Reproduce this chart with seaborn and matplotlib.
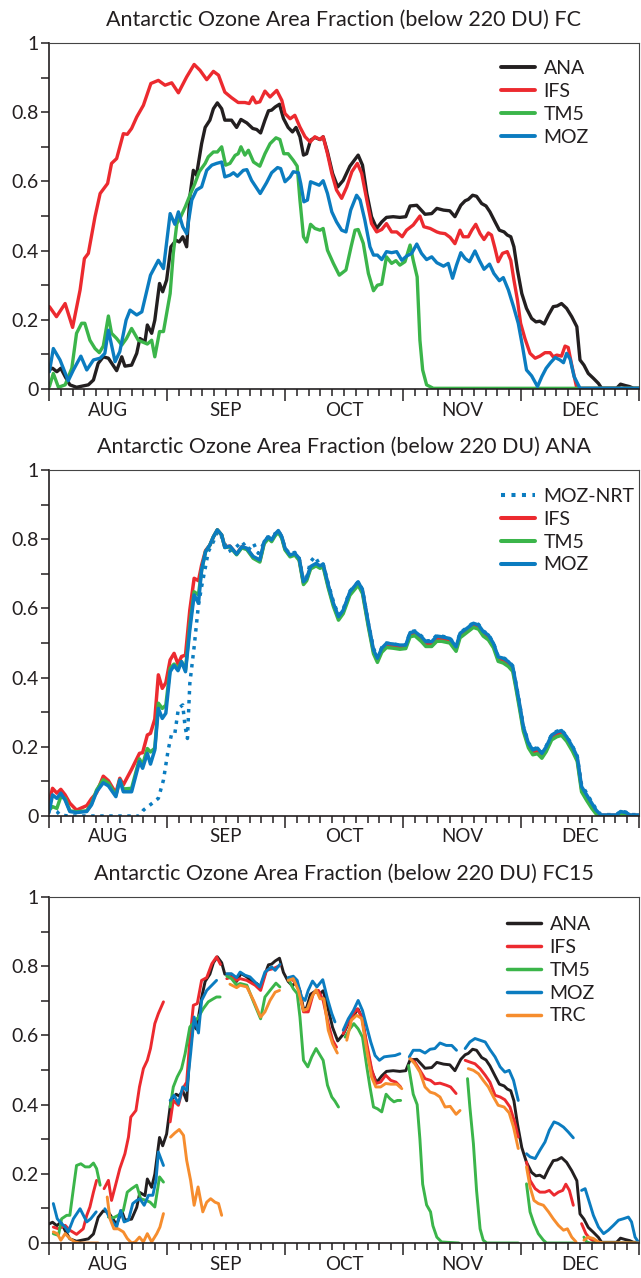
import numpy as np
import pandas as pd
import matplotlib
matplotlib.use("Agg")
import matplotlib.pyplot as plt
import seaborn as sns
from matplotlib.lines import Line2D
from matplotlib.ticker import FixedLocator, FixedFormatter

sns.set_theme(style="white")
plt.rcParams['font.family'] = ['Lato', 'DejaVu Sans']

# ---------------- data (day since 1 Aug, area fraction) ----------------
months = ['AUG', 'SEP', 'OCT', 'NOV', 'DEC']
y_labels = ['0', '0.2', '0.4', '0.6', '0.8', '1']
titles = ['Antarctic Ozone Area Fraction (below 220 DU) FC',
          'Antarctic Ozone Area Fraction (below 220 DU) ANA',
          'Antarctic Ozone Area Fraction (below 220 DU) FC15']

ana = [(0, 0.055), (0.9, 0.06), (2.0, 0.05), (3.0, 0.06), (4.1, 0.036), (5.3, 0.012), (7.0, 0.005),
       (10.0, 0.012), (11.3, 0.026), (12.5, 0.074), (13.8, 0.093), (15.1, 0.089), (17.2, 0.053),
       (18.5, 0.093), (19.3, 0.066), (21.0, 0.069), (22.3, 0.103), (23.1, 0.146), (24.4, 0.137),
       (25.0, 0.185), (26.1, 0.161), (26.9, 0.199), (28.1, 0.305), (28.9, 0.281), (29.9, 0.315),
       (31.0, 0.411), (32.3, 0.43), (33.1, 0.425), (34.0, 0.44), (35.0, 0.411), (35.8, 0.555),
       (36.7, 0.632), (37.5, 0.618), (38.8, 0.709), (39.7, 0.756), (40.9, 0.777), (41.8, 0.81),
       (42.8, 0.827), (43.9, 0.81), (44.7, 0.777), (46.4, 0.777), (47.7, 0.756), (48.8, 0.779),
       (50.3, 0.769), (51.8, 0.753), (52.8, 0.75), (53.8, 0.74), (54.9, 0.777), (55.8, 0.804),
       (56.6, 0.806), (57.5, 0.815), (58.6, 0.823), (59.6, 0.782), (60.8, 0.756), (61.9, 0.743),
       (62.8, 0.756), (63.8, 0.729), (64.7, 0.676), (65.5, 0.68), (66.5, 0.719), (67.6, 0.727),
       (68.9, 0.721), (69.7, 0.729), (70.8, 0.685), (72.1, 0.623), (73.4, 0.584), (74.8, 0.603),
       (76.5, 0.644), (78.6, 0.676), (79.7, 0.647), (80.8, 0.565), (82.0, 0.498), (83.3, 0.464),
       (84.6, 0.483), (85.8, 0.496), (87.5, 0.498), (89.2, 0.496), (90.7, 0.498), (91.8, 0.529),
       (93.5, 0.531), (95.6, 0.505), (97.3, 0.507), (98.6, 0.522), (100.3, 0.517), (101.9, 0.515),
       (103.2, 0.498), (104.7, 0.531), (105.8, 0.544), (106.6, 0.548), (107.7, 0.56), (108.7, 0.557),
       (110.0, 0.536), (111.1, 0.529), (112.1, 0.512), (113.4, 0.483), (114.5, 0.459), (115.7, 0.454),
       (116.5, 0.445), (117.4, 0.44), (118.2, 0.411), (119.1, 0.344), (120.2, 0.276), (121.4, 0.233),
       (122.7, 0.204), (123.8, 0.194), (124.8, 0.196), (125.9, 0.188), (127.0, 0.214), (128.2, 0.238),
       (129.2, 0.24), (130.3, 0.247), (131.6, 0.233), (132.9, 0.209), (134.2, 0.18), (135.0, 0.084),
       (136.0, 0.069), (137.1, 0.045), (138.4, 0.031), (139.7, 0.016), (140.5, 0.002), (144.3, 0.002),
       (145.3, 0.014), (146.5, 0.01), (147.6, 0.007), (148.6, 0.002), (150, 0.002)]

fc_ifs = [(0.1, 0.238), (1.9, 0.209), (4.1, 0.247), (6.0, 0.178), (7.9, 0.286), (9.0, 0.377), (10.0, 0.392),
          (11.7, 0.498), (13.0, 0.565), (14.9, 0.594), (15.9, 0.652), (17.2, 0.666), (18.9, 0.738),
          (19.9, 0.736), (21.0, 0.753), (22.3, 0.786), (24.0, 0.82), (25.9, 0.883), (27.8, 0.892),
          (29.5, 0.878), (31.2, 0.885), (32.9, 0.856), (35.0, 0.902), (36.9, 0.938), (38.4, 0.921),
          (40.1, 0.894), (41.8, 0.918), (43.1, 0.907), (44.7, 0.858), (46.4, 0.842), (48.1, 0.828),
          (49.8, 0.828), (50.9, 0.825), (51.8, 0.844), (52.6, 0.827), (53.6, 0.83), (54.9, 0.861),
          (56.2, 0.844), (57.9, 0.863), (59.2, 0.834), (60.0, 0.796), (61.3, 0.781), (62.5, 0.791),
          (63.8, 0.757), (65.1, 0.729), (66.4, 0.714), (67.6, 0.729), (68.9, 0.721), (69.7, 0.729),
          (70.8, 0.68), (71.9, 0.623), (73.1, 0.575), (74.4, 0.551), (75.7, 0.584), (77.0, 0.628),
          (78.4, 0.652), (79.5, 0.623), (80.8, 0.546), (82.0, 0.478), (83.3, 0.454), (84.6, 0.461),
          (85.8, 0.478), (87.1, 0.454), (88.4, 0.454), (89.8, 0.44), (90.9, 0.459), (92.6, 0.474),
          (94.3, 0.5), (95.3, 0.469), (96.9, 0.464), (98.6, 0.454), (99.4, 0.451), (100.7, 0.449),
          (102.0, 0.438), (103.2, 0.42), (104.5, 0.459), (105.3, 0.44), (106.6, 0.44), (107.5, 0.459),
          (108.5, 0.476), (109.6, 0.449), (110.6, 0.432), (111.7, 0.451), (112.5, 0.445), (113.4, 0.406),
          (114.2, 0.368), (115.3, 0.392), (116.5, 0.397), (117.4, 0.372), (118.2, 0.315), (119.1, 0.257),
          (119.9, 0.19), (121.0, 0.146), (122.3, 0.103), (123.6, 0.089), (124.8, 0.095), (126.1, 0.105),
          (127.4, 0.105), (128.2, 0.093), (129.1, 0.098), (130.3, 0.095), (131.2, 0.124), (132.0, 0.12),
          (132.9, 0.069), (134.2, 0.002), (150, 0.002)]

fc_tm5 = [(0.1, 0.007), (1.1, 0.045), (2.4, 0.005), (4.1, 0.012), (5.8, 0.06), (7.0, 0.161), (8.3, 0.19),
          (9.1, 0.19), (10.4, 0.141), (11.7, 0.117), (12.8, 0.105), (13.8, 0.124), (15.1, 0.211),
          (15.9, 0.161), (17.2, 0.146), (18.5, 0.127), (19.7, 0.146), (21.0, 0.175), (22.7, 0.141),
          (25.0, 0.13), (26.1, 0.141), (26.9, 0.093), (28.1, 0.166), (29.1, 0.166), (30.8, 0.276),
          (31.6, 0.392), (32.5, 0.478), (33.3, 0.493), (34.7, 0.528), (36.0, 0.565), (37.1, 0.594),
          (38.2, 0.628), (39.7, 0.652), (40.5, 0.671), (41.8, 0.685), (42.8, 0.685), (43.9, 0.7),
          (44.9, 0.647), (46.0, 0.652), (47.3, 0.675), (48.1, 0.68), (48.8, 0.7), (49.8, 0.676),
          (50.7, 0.69), (52.0, 0.656), (53.6, 0.644), (54.9, 0.68), (56.2, 0.709), (57.7, 0.726),
          (58.7, 0.721), (59.7, 0.68), (60.8, 0.68), (62.1, 0.661), (63.1, 0.644), (63.8, 0.546),
          (64.7, 0.44), (65.5, 0.425), (66.5, 0.476), (67.6, 0.464), (68.9, 0.459), (69.7, 0.464),
          (70.8, 0.401), (72.3, 0.363), (73.8, 0.329), (75.5, 0.344), (76.8, 0.411), (77.8, 0.459),
          (78.6, 0.461), (79.9, 0.421), (81.2, 0.334), (82.5, 0.284), (83.5, 0.3), (84.6, 0.303),
          (85.8, 0.382), (87.1, 0.363), (88.2, 0.371), (89.2, 0.358), (90.5, 0.368), (91.8, 0.416),
          (92.6, 0.372), (93.6, 0.324), (94.3, 0.141), (95.0, 0.055), (96.0, 0.012), (97.7, 0.002),
          (150, 0.002)]

fc_moz = [(0.1, 0.05), (1.1, 0.117), (2.8, 0.084), (4.9, 0.024), (6.2, 0.055), (8.1, 0.095), (9.6, 0.055),
          (11.3, 0.084), (13.0, 0.089), (14.2, 0.103), (15.1, 0.17), (16.8, 0.079), (18.0, 0.108),
          (19.6, 0.199), (20.6, 0.228), (22.3, 0.214), (23.6, 0.223), (24.7, 0.276), (25.8, 0.329),
          (27.8, 0.372), (29.1, 0.348), (30.8, 0.507), (32.0, 0.476), (32.9, 0.512), (34.0, 0.469),
          (35.0, 0.449), (36.3, 0.546), (37.5, 0.575), (38.8, 0.584), (40.1, 0.632), (41.4, 0.647),
          (42.6, 0.652), (43.9, 0.656), (44.7, 0.613), (46.0, 0.618), (46.9, 0.625), (47.9, 0.615),
          (49.4, 0.632), (50.3, 0.634), (51.5, 0.603), (53.7, 0.565), (55.3, 0.596), (56.6, 0.625),
          (58.1, 0.64), (58.9, 0.637), (60.0, 0.599), (61.3, 0.613), (62.1, 0.628), (63.4, 0.625),
          (64.0, 0.594), (64.8, 0.541), (65.7, 0.546), (66.5, 0.599), (67.6, 0.594), (68.7, 0.589),
          (69.7, 0.602), (70.8, 0.565), (71.9, 0.512), (73.1, 0.483), (74.4, 0.459), (75.5, 0.454),
          (76.7, 0.517), (78.2, 0.56), (79.1, 0.546), (80.3, 0.488), (81.6, 0.411), (82.5, 0.387),
          (83.5, 0.387), (84.6, 0.374), (85.8, 0.397), (87.1, 0.394), (88.4, 0.397), (89.7, 0.372),
          (90.9, 0.384), (92.2, 0.392), (93.5, 0.419), (94.7, 0.392), (96.0, 0.374), (97.3, 0.382),
          (98.6, 0.365), (100.3, 0.355), (101.5, 0.363), (102.6, 0.32), (103.6, 0.358), (104.7, 0.394),
          (105.8, 0.377), (106.9, 0.368), (108.3, 0.399), (109.4, 0.372), (110.6, 0.346), (112.0, 0.361),
          (113.1, 0.334), (114.5, 0.313), (115.5, 0.322), (116.8, 0.286), (118.1, 0.238), (119.3, 0.19),
          (120.4, 0.122), (121.4, 0.055), (122.7, 0.038), (124.2, 0.007), (125.3, 0.036), (126.4, 0.06),
          (127.5, 0.076), (128.7, 0.091), (129.9, 0.084), (130.8, 0.076), (131.6, 0.103), (132.5, 0.086),
          (133.5, 0.036), (135.0, 0.002), (150, 0.002)]

an_nrt = [(0.0, 0.027), (2.0, 0.013), (2.8, 0.003), (5.0, 0.0), (23.0, 0.0), (24.0, 0.017), (25.7, 0.032),
          (27.8, 0.051), (29.1, 0.104), (30.3, 0.191), (31.2, 0.239), (32.0, 0.239), (32.9, 0.311),
          (34.0, 0.321), (34.6, 0.258), (35.2, 0.224), (35.8, 0.383), (36.9, 0.489), (38.0, 0.61),
          (38.8, 0.663), (39.8, 0.721), (40.5, 0.764), (41.8, 0.793), (42.8, 0.822), (43.9, 0.807),
          (45.6, 0.764), (47.3, 0.774), (49.0, 0.793), (50.7, 0.769), (52.0, 0.788), (53.2, 0.759),
          (54.7, 0.79), (55.8, 0.81), (57.5, 0.815), (58.3, 0.825), (59.2, 0.807), (60.0, 0.774),
          (61.3, 0.757), (62.5, 0.762), (63.6, 0.745), (64.7, 0.68), (65.5, 0.69), (66.5, 0.735),
          (67.6, 0.75), (68.9, 0.725), (69.7, 0.728), (71.0, 0.672), (72.3, 0.62), (73.6, 0.58),
          (74.8, 0.598), (76.5, 0.65), (78.6, 0.677), (79.7, 0.655), (81.2, 0.557), (82.5, 0.485),
          (83.5, 0.458), (84.6, 0.487), (85.8, 0.5), (87.5, 0.497), (89.2, 0.494), (90.7, 0.494),
          (91.8, 0.532), (93.0, 0.535), (94.7, 0.52), (95.8, 0.506), (97.3, 0.507), (98.6, 0.523),
          (99.8, 0.52), (101.9, 0.515), (103.5, 0.49), (104.5, 0.53), (106.2, 0.544), (107.9, 0.559),
          (109.2, 0.554), (110.4, 0.535), (111.7, 0.525), (113.0, 0.5), (114.2, 0.462), (115.5, 0.458),
          (116.8, 0.448), (117.9, 0.434), (118.7, 0.385), (119.6, 0.328), (120.6, 0.26), (121.9, 0.212),
          (123.0, 0.193), (124.2, 0.198), (125.3, 0.183), (126.4, 0.202), (127.8, 0.236), (129.1, 0.245),
          (130.3, 0.249), (131.6, 0.231), (133.1, 0.202), (134.3, 0.173), (135.4, 0.09), (136.7, 0.066),
          (138.0, 0.04), (139.1, 0.02), (140.3, 0.004), (144.3, 0.004), (145.3, 0.014), (146.7, 0.011),
          (147.7, 0.004), (150, 0.004)]

an_ifs = [(0.0, 0.041), (0.9, 0.08), (2.0, 0.066), (3.0, 0.077), (4.1, 0.061), (5.3, 0.037), (7.0, 0.017),
          (9.6, 0.03), (10.8, 0.05), (12.1, 0.067), (13.8, 0.115), (15.1, 0.102), (17.0, 0.066),
          (18.0, 0.109), (18.9, 0.09), (21.0, 0.135), (23.0, 0.181), (23.8, 0.183), (25.0, 0.234),
          (25.8, 0.239), (26.9, 0.28), (27.8, 0.408), (28.8, 0.369), (29.7, 0.385), (30.8, 0.451),
          (31.8, 0.47), (32.8, 0.439), (33.7, 0.461), (34.7, 0.465), (35.8, 0.595), (36.9, 0.687),
          (38.0, 0.68), (38.8, 0.725), (39.8, 0.767), (40.9, 0.783), (41.8, 0.807), (42.8, 0.827),
          (43.9, 0.812), (44.7, 0.778), (46.0, 0.78), (47.7, 0.757), (49.0, 0.778), (50.3, 0.772),
          (51.9, 0.748), (53.6, 0.737), (54.7, 0.79), (55.8, 0.805), (56.6, 0.796), (57.5, 0.813),
          (58.3, 0.823), (59.2, 0.805), (60.0, 0.772), (61.3, 0.752), (62.5, 0.757), (63.6, 0.742),
          (64.7, 0.673), (65.5, 0.684), (66.5, 0.718), (67.9, 0.727), (68.9, 0.72), (69.7, 0.725),
          (71.0, 0.664), (72.3, 0.611), (73.6, 0.572), (74.8, 0.591), (76.5, 0.644), (78.6, 0.673),
          (79.7, 0.649), (81.2, 0.552), (82.5, 0.475), (83.5, 0.451), (84.6, 0.48), (85.8, 0.494),
          (87.5, 0.492), (89.2, 0.489), (90.7, 0.49), (91.8, 0.525), (93.0, 0.528), (94.7, 0.512),
          (95.8, 0.497), (97.3, 0.498), (98.6, 0.513), (99.8, 0.512), (101.9, 0.507), (103.5, 0.484),
          (104.5, 0.522), (106.2, 0.537), (107.9, 0.552), (109.2, 0.547), (110.4, 0.527), (111.7, 0.516),
          (113.0, 0.493), (114.2, 0.455), (115.5, 0.45), (116.8, 0.44), (117.9, 0.426), (118.7, 0.377),
          (119.6, 0.32), (120.6, 0.252), (121.9, 0.204), (123.0, 0.184), (124.2, 0.188), (125.3, 0.174),
          (126.4, 0.193), (127.8, 0.227), (129.1, 0.236), (130.3, 0.24), (131.6, 0.223), (133.1, 0.194),
          (134.3, 0.165), (135.4, 0.078), (136.7, 0.052), (138.0, 0.028), (139.1, 0.01), (140.3, 0.002),
          (144.3, 0.002), (145.3, 0.01), (146.7, 0.008), (147.7, 0.002), (150, 0.002)]

an_tm5 = [(0.0, 0.017), (0.9, 0.027), (2.0, 0.022), (3.0, 0.056), (4.1, 0.051), (5.3, 0.015), (7.0, 0.012),
          (9.6, 0.015), (10.8, 0.035), (12.1, 0.075), (13.8, 0.105), (15.1, 0.095), (17.0, 0.06),
          (18.0, 0.104), (18.9, 0.078), (21.0, 0.08), (23.0, 0.165), (23.8, 0.148), (25.0, 0.195),
          (25.8, 0.185), (26.9, 0.196), (27.8, 0.326), (28.8, 0.311), (29.7, 0.32), (30.8, 0.427),
          (31.8, 0.439), (32.8, 0.427), (33.7, 0.446), (34.7, 0.422), (35.8, 0.552), (36.9, 0.648),
          (38.0, 0.639), (38.8, 0.711), (39.8, 0.764), (40.9, 0.783), (41.8, 0.807), (42.8, 0.827),
          (43.9, 0.812), (44.7, 0.776), (46.0, 0.778), (47.7, 0.755), (49.0, 0.775), (50.3, 0.77),
          (51.9, 0.745), (53.6, 0.734), (54.7, 0.787), (55.8, 0.802), (56.6, 0.793), (57.5, 0.81),
          (58.3, 0.82), (59.2, 0.802), (60.0, 0.769), (61.3, 0.749), (62.5, 0.754), (63.6, 0.739),
          (64.7, 0.669), (65.5, 0.68), (66.5, 0.714), (67.9, 0.723), (68.9, 0.716), (69.7, 0.72),
          (71.0, 0.659), (72.3, 0.606), (73.6, 0.566), (74.8, 0.585), (76.5, 0.638), (78.6, 0.667),
          (79.7, 0.643), (81.2, 0.546), (82.5, 0.469), (83.5, 0.444), (84.6, 0.473), (85.8, 0.487),
          (87.5, 0.485), (89.2, 0.482), (90.7, 0.484), (91.8, 0.518), (93.0, 0.521), (94.7, 0.504),
          (95.8, 0.49), (97.3, 0.49), (98.6, 0.505), (99.8, 0.505), (101.9, 0.5), (103.5, 0.476),
          (104.5, 0.515), (106.2, 0.53), (107.9, 0.545), (109.2, 0.54), (110.4, 0.52), (111.7, 0.509),
          (113.0, 0.486), (114.2, 0.447), (115.5, 0.442), (116.8, 0.432), (117.9, 0.418), (118.7, 0.37),
          (119.6, 0.312), (120.6, 0.245), (121.9, 0.197), (123.0, 0.177), (124.2, 0.18), (125.3, 0.167),
          (126.4, 0.186), (127.8, 0.22), (129.1, 0.229), (130.3, 0.233), (131.6, 0.216), (133.1, 0.187),
          (134.3, 0.158), (135.4, 0.07), (136.7, 0.045), (138.0, 0.022), (139.1, 0.006), (140.3, 0.0),
          (144.3, 0.0), (145.3, 0.006), (146.7, 0.005), (147.7, 0.0), (150, 0.0)]

an_moz = [(0.0, 0.01), (0.9, 0.061), (2.0, 0.051), (3.0, 0.066), (4.1, 0.046), (5.3, 0.013), (7.0, 0.01),
          (9.6, 0.013), (10.8, 0.032), (12.1, 0.07), (13.8, 0.096), (15.1, 0.087), (17.0, 0.056),
          (18.0, 0.104), (18.9, 0.07), (21.0, 0.07), (23.0, 0.157), (23.8, 0.138), (25.0, 0.181),
          (25.8, 0.15), (26.9, 0.191), (27.8, 0.311), (28.8, 0.282), (29.7, 0.297), (30.8, 0.417),
          (31.8, 0.435), (32.8, 0.42), (33.7, 0.446), (34.7, 0.417), (35.8, 0.538), (36.9, 0.639),
          (38.0, 0.615), (38.8, 0.711), (39.8, 0.764), (40.9, 0.783), (41.8, 0.807), (42.8, 0.827),
          (43.9, 0.812), (44.7, 0.776), (46.0, 0.78), (47.7, 0.757), (49.0, 0.778), (50.3, 0.774),
          (51.9, 0.75), (53.6, 0.74), (54.7, 0.793), (55.8, 0.807), (56.6, 0.798), (57.5, 0.815),
          (58.3, 0.825), (59.2, 0.807), (60.0, 0.774), (61.3, 0.754), (62.5, 0.759), (63.6, 0.745),
          (64.7, 0.677), (65.5, 0.687), (66.5, 0.721), (67.9, 0.73), (68.9, 0.723), (69.7, 0.728),
          (71.0, 0.668), (72.3, 0.615), (73.6, 0.576), (74.8, 0.595), (76.5, 0.648), (78.6, 0.677),
          (79.7, 0.653), (81.2, 0.557), (82.5, 0.48), (83.5, 0.456), (84.6, 0.485), (85.8, 0.499),
          (87.5, 0.497), (89.2, 0.494), (90.7, 0.494), (91.8, 0.53), (93.0, 0.533), (94.7, 0.518),
          (95.8, 0.504), (97.3, 0.504), (98.6, 0.52), (99.8, 0.518), (101.9, 0.513), (103.5, 0.489),
          (104.5, 0.528), (106.2, 0.542), (107.9, 0.557), (109.2, 0.552), (110.4, 0.533), (111.7, 0.523),
          (113.0, 0.499), (114.2, 0.46), (115.5, 0.456), (116.8, 0.446), (117.9, 0.432), (118.7, 0.383),
          (119.6, 0.326), (120.6, 0.258), (121.9, 0.21), (123.0, 0.191), (124.2, 0.196), (125.3, 0.181),
          (126.4, 0.2), (127.8, 0.234), (129.1, 0.243), (130.3, 0.247), (131.6, 0.229), (133.1, 0.2),
          (134.3, 0.171), (135.4, 0.085), (136.7, 0.061), (138.0, 0.037), (139.1, 0.017), (140.3, 0.003),
          (144.3, 0.003), (145.3, 0.013), (146.7, 0.01), (147.7, 0.003), (150, 0.003)]

# FC15: list of 15-day forecast segments per model
fc15_ifs = [
    [(1.1, 0.046), (2.4, 0.041), (4.1, 0.051), (5.3, 0.037), (7.0, 0.025), (8.7, 0.041), (9.6, 0.08),
     (10.4, 0.104), (11.3, 0.147), (12.1, 0.181)],
    [(14.0, 0.157), (15.1, 0.181), (15.9, 0.123), (16.8, 0.162), (18.0, 0.215), (19.3, 0.258), (20.2, 0.306),
     (20.8, 0.364), (22.1, 0.383), (23.0, 0.451), (24.0, 0.504), (25.0, 0.528), (25.8, 0.562), (26.9, 0.634),
     (27.8, 0.663), (29.1, 0.697)],
    [(30.8, 0.35), (31.6, 0.412), (32.9, 0.398), (34.0, 0.446), (35.0, 0.465), (35.8, 0.586), (36.7, 0.687),
     (37.7, 0.692), (38.8, 0.759), (40.1, 0.767), (41.4, 0.807), (42.6, 0.827), (43.6, 0.805)],
    [(45.2, 0.764), (46.4, 0.769), (47.7, 0.759), (48.6, 0.764), (50.3, 0.759), (52.4, 0.745), (53.8, 0.73),
     (55.3, 0.788), (57.0, 0.793), (58.7, 0.802)],
    [(60.8, 0.764), (62.1, 0.759), (63.4, 0.74), (64.7, 0.668), (65.9, 0.668), (67.2, 0.721), (68.5, 0.73),
     (69.7, 0.701), (71.0, 0.634), (72.1, 0.586), (73.1, 0.566)],
    [(74.8, 0.605), (76.1, 0.639), (77.4, 0.663), (78.4, 0.677), (79.5, 0.653), (80.8, 0.576), (82.0, 0.504),
     (83.1, 0.461), (84.3, 0.465), (85.6, 0.485), (86.9, 0.47), (88.2, 0.465), (89.4, 0.451)],
    [(91.8, 0.533), (93.0, 0.523), (94.3, 0.499), (95.6, 0.475), (97.0, 0.47), (98.1, 0.46), (99.4, 0.462),
     (101.0, 0.456), (102.1, 0.451), (103.5, 0.432)],
    [(105.8, 0.528), (107.0, 0.523), (108.3, 0.518), (109.6, 0.504), (110.9, 0.485), (112.1, 0.465),
     (113.4, 0.427), (114.7, 0.422), (115.9, 0.414), (117.2, 0.393), (118.5, 0.345), (119.3, 0.306)],
    [(121.4, 0.234), (122.3, 0.181), (123.6, 0.157), (124.8, 0.147), (126.1, 0.147), (127.2, 0.152),
     (128.4, 0.138), (129.5, 0.147), (130.6, 0.152), (131.4, 0.17), (132.3, 0.152), (133.3, 0.109)],
    [(135.4, 0.056), (136.5, 0.027), (137.5, 0.013), (138.8, 0.003), (140.1, 0.0), (150, 0.0)],
]
fc15_tm5 = [
    [(1.1, 0.027), (2.4, 0.022), (3.2, 0.07), (4.5, 0.08), (5.3, 0.08), (6.2, 0.157), (7.0, 0.224), (8.1, 0.229),
     (9.2, 0.22), (10.3, 0.22), (11.3, 0.231), (12.1, 0.215), (13.0, 0.167)],
    [(15.1, 0.075), (16.4, 0.073), (17.6, 0.08), (18.9, 0.094), (19.9, 0.147), (21.0, 0.157), (22.3, 0.167),
     (23.3, 0.128), (24.7, 0.123), (25.7, 0.118), (26.9, 0.104), (28.1, 0.191), (29.1, 0.176)],
    [(30.8, 0.393), (31.6, 0.451), (32.6, 0.48), (33.7, 0.504), (34.6, 0.547), (35.8, 0.624), (36.9, 0.639),
     (38.0, 0.653), (39.2, 0.677), (40.5, 0.697), (41.8, 0.706), (42.6, 0.711), (43.5, 0.711)],
    [(45.2, 0.771), (46.4, 0.764), (47.7, 0.745), (48.6, 0.75), (50.3, 0.745), (52.0, 0.697), (53.8, 0.648),
     (54.9, 0.711), (56.2, 0.73), (57.7, 0.751), (58.7, 0.74)],
    [(60.8, 0.764), (62.1, 0.735), (63.1, 0.721), (63.8, 0.653), (64.7, 0.528), (65.8, 0.509), (66.8, 0.538),
     (67.9, 0.562), (68.9, 0.543), (69.7, 0.528), (70.8, 0.456), (71.9, 0.422), (72.7, 0.41), (73.6, 0.393)],
    [(75.3, 0.595), (76.5, 0.619), (77.5, 0.634), (78.6, 0.619), (79.7, 0.595), (80.8, 0.509), (81.6, 0.451),
     (82.5, 0.393), (83.5, 0.388), (84.6, 0.379), (85.7, 0.43), (86.7, 0.417), (87.7, 0.408), (88.6, 0.412),
     (89.4, 0.412)],
    [(91.4, 0.513), (92.6, 0.43), (93.6, 0.4), (94.3, 0.3), (95.0, 0.17), (96.0, 0.11), (97.0, 0.09),
     (97.6, 0.05), (98.6, 0.017), (99.8, 0.003), (104.2, 0.0)],
    [(106.4, 0.475), (107.0, 0.393), (107.9, 0.287), (108.7, 0.152), (109.6, 0.041), (110.4, 0.008),
     (111.3, 0.0), (119.3, 0.0)],
    [(121.4, 0.171), (122.3, 0.09), (123.3, 0.056), (124.4, 0.027), (125.7, 0.008), (126.5, 0.0), (133.3, 0.0)],
    [(136.0, 0.017), (136.7, 0.003), (137.5, 0.0), (150, 0.0)],
]
fc15_moz = [
    [(1.1, 0.114), (2.1, 0.07), (3.2, 0.056), (4.1, 0.046), (4.9, 0.032), (6.2, 0.07), (7.9, 0.099),
     (9.6, 0.061), (10.6, 0.07), (12.0, 0.09)],
    [(14.2, 0.099), (15.1, 0.08), (16.2, 0.061), (17.2, 0.046), (18.2, 0.094), (19.1, 0.061), (20.2, 0.066),
     (21.3, 0.114), (22.3, 0.123), (23.1, 0.128), (24.2, 0.109), (25.3, 0.138), (26.4, 0.138), (27.2, 0.181),
     (27.8, 0.263), (29.1, 0.224)],
    [(30.8, 0.412), (31.8, 0.427), (32.9, 0.403), (34.0, 0.451), (35.0, 0.441), (36.0, 0.547), (36.9, 0.653),
     (38.0, 0.607), (38.8, 0.701), (40.1, 0.73), (41.4, 0.745), (42.6, 0.759)],
    [(45.2, 0.778), (46.4, 0.778), (47.7, 0.767), (48.6, 0.783), (49.8, 0.774), (51.1, 0.769), (52.4, 0.754),
     (53.6, 0.74), (54.9, 0.783), (56.6, 0.798), (57.5, 0.788), (58.7, 0.805)],
    [(60.8, 0.767), (62.1, 0.771), (63.1, 0.759), (64.2, 0.711), (65.1, 0.701), (65.9, 0.73), (67.0, 0.757),
     (68.1, 0.74), (69.6, 0.761), (70.8, 0.706), (71.9, 0.663), (72.7, 0.639)],
    [(74.8, 0.615), (76.1, 0.648), (77.4, 0.672), (78.6, 0.701), (79.7, 0.672), (80.8, 0.624), (81.8, 0.581),
     (82.9, 0.542), (84.0, 0.528), (85.2, 0.538), (86.5, 0.54), (88.0, 0.542), (89.2, 0.547)],
    [(91.6, 0.538), (92.6, 0.557), (94.3, 0.557), (95.6, 0.549), (96.9, 0.56), (98.1, 0.562), (99.4, 0.578),
     (101.0, 0.571), (102.4, 0.571), (103.6, 0.557)],
    [(105.8, 0.562), (107.0, 0.581), (108.3, 0.591), (109.6, 0.586), (110.9, 0.581), (112.1, 0.559),
     (113.4, 0.538), (114.7, 0.509), (115.9, 0.494), (117.0, 0.499), (118.1, 0.47), (119.3, 0.412)],
    [(121.4, 0.258), (122.3, 0.249), (123.6, 0.244), (124.8, 0.268), (126.1, 0.292), (127.2, 0.326),
     (128.4, 0.35), (129.5, 0.345), (130.8, 0.335), (132.0, 0.321), (133.3, 0.304)],
    [(135.4, 0.152), (136.3, 0.157), (137.1, 0.128), (138.4, 0.08), (139.7, 0.046), (141.0, 0.027),
     (142.2, 0.037), (143.5, 0.051), (144.8, 0.066), (146.0, 0.07), (147.3, 0.075), (148.1, 0.061),
     (149.0, 0.017), (150, 0.0)],
]
fc15_trc = [
    [(1.1, 0.032), (2.1, 0.027), (3.0, 0.008), (4.1, 0.027), (5.3, 0.013), (6.6, 0.003), (7.9, 0.0), (12.5, 0.0)],
    [(14.8, 0.133), (15.5, 0.07), (16.5, 0.041), (17.6, 0.041), (18.9, 0.032), (19.9, 0.013), (21.0, 0.0),
     (21.9, 0.003), (23.0, 0.017), (24.0, 0.003), (25.0, 0.027), (26.1, 0.003), (27.4, 0.027), (28.2, 0.046),
     (29.1, 0.085)],
    [(30.9, 0.306), (32.0, 0.318), (33.1, 0.328), (34.2, 0.311), (35.0, 0.239), (36.0, 0.181), (36.9, 0.109),
     (37.9, 0.162), (39.1, 0.09), (40.1, 0.118), (41.1, 0.128), (42.2, 0.118), (43.1, 0.114), (43.9, 0.08)],
    [(46.0, 0.748), (47.7, 0.738), (48.6, 0.745), (50.3, 0.74), (52.0, 0.701), (53.8, 0.653), (54.9, 0.668),
     (56.2, 0.701), (57.5, 0.725), (58.6, 0.73)],
    [(60.8, 0.759), (62.1, 0.764), (63.4, 0.73), (64.7, 0.672), (65.7, 0.677), (66.8, 0.711), (67.9, 0.732),
     (68.9, 0.706), (69.9, 0.706), (71.0, 0.615), (72.1, 0.576), (73.3, 0.549)],
    [(75.7, 0.586), (76.9, 0.644), (78.2, 0.658), (79.5, 0.649), (80.8, 0.557), (82.0, 0.48), (83.1, 0.451),
     (84.3, 0.451), (85.6, 0.461), (86.9, 0.459), (88.4, 0.459), (89.7, 0.446)],
    [(91.8, 0.533), (93.0, 0.518), (94.3, 0.494), (95.6, 0.451), (96.9, 0.436), (98.1, 0.432), (99.4, 0.422),
     (100.7, 0.393), (102.0, 0.395), (103.5, 0.372), (104.5, 0.383)],
    [(106.6, 0.504), (107.9, 0.499), (109.2, 0.489), (110.4, 0.47), (111.7, 0.451), (113.0, 0.422),
     (114.2, 0.398), (115.7, 0.393), (117.0, 0.376), (118.1, 0.335), (119.3, 0.273)],
    [(121.4, 0.22), (122.3, 0.162), (123.3, 0.123), (124.4, 0.114), (125.7, 0.109), (127.0, 0.09),
     (128.2, 0.07), (129.5, 0.051), (130.8, 0.037), (131.8, 0.041), (132.9, 0.017), (134.0, 0.003)],
    [(136.0, 0.008), (137.1, 0.017), (138.4, 0.013), (139.7, 0.003), (140.9, 0.0), (150, 0.0)],
]

colors = {'ANA': '#231f20', 'IFS': '#ec2a2f', 'TM5': '#3bb54a', 'MOZ': '#0b7cc0',
          'TRC': '#f68d2e', 'MOZ-NRT': '#0b7cc0'}


def frame(model, segments):
    rows = []
    for s, seg in enumerate(segments):
        for d, v in seg:
            rows.append((model, s, d, v))
    return pd.DataFrame(rows, columns=['model', 'seg', 'day', 'value'])


panel_data = [
    [('ANA', [ana]), ('IFS', [fc_ifs]), ('TM5', [fc_tm5]), ('MOZ', [fc_moz])],
    [('MOZ-NRT', [an_nrt]), ('IFS', [an_ifs]), ('TM5', [an_tm5]), ('MOZ', [an_moz])],
    [('ANA', [ana]), ('IFS', fc15_ifs), ('TM5', fc15_tm5), ('MOZ', fc15_moz), ('TRC', fc15_trc)],
]
line_w = [2.4, 2.5, 2.1]
leg_x = [0.766, 0.766, 0.776]
leg_y = [0.950, 0.948, 0.945]

# ---------------- figure ----------------
fig = plt.figure(figsize=(6.41, 12.78), dpi=100)
L, W, H = 49 / 641, 590 / 641, 346 / 1278
bottoms = [1 - 389 / 1278, 1 - 816 / 1278, 1 - 1243 / 1278]

minor_days = [d for d in range(0, 151, 3) if d % 30]
minor_labels = [months[(d - 15) // 30] if d % 30 == 15 else '' for d in minor_days]

for i, b in enumerate(bottoms):
    ax = fig.add_axes([L, b, W, H])
    handles = []
    for model, segs in panel_data[i]:
        df = frame(model, segs)
        ls = (0, (1.0, 1.6)) if model == 'MOZ-NRT' else '-'
        sns.lineplot(data=df, x='day', y='value', units='seg', estimator=None, sort=False,
                     color=colors[model], linewidth=line_w[i], linestyle=ls, ax=ax, legend=False)
        handles.append(Line2D([], [], color=colors[model], lw=line_w[i] + 0.4, linestyle=ls))
    labels = [m for m, _ in panel_data[i]]

    ax.set_xlim(0, 150)
    ax.set_ylim(0, 1)
    ax.set_xlabel('')
    ax.set_ylabel('')
    ax.set_xticks(np.arange(0, 151, 30))
    ax.set_xticklabels([])
    ax.xaxis.set_minor_locator(FixedLocator(minor_days))
    ax.xaxis.set_minor_formatter(FixedFormatter(minor_labels))
    ax.set_yticks(np.linspace(0, 1, 6))
    ax.set_yticklabels(y_labels)
    ax.yaxis.set_minor_locator(FixedLocator(np.arange(0.1, 1.0, 0.2)))

    ax.tick_params(axis='x', which='major', direction='out', length=8.5, width=1.1,
                   color='#231f20', bottom=True)
    ax.tick_params(axis='x', which='minor', direction='out', length=5, width=1.1,
                   color='#231f20', labelsize=13.5, pad=4, labelcolor='#231f20', bottom=True)
    ax.tick_params(axis='y', which='both', direction='out', length=6, width=1.1,
                   color='#231f20', labelsize=14, pad=1.5, labelcolor='#231f20', left=True)

    for side in ['left', 'bottom']:
        ax.spines[side].set_linewidth(1.2)
        ax.spines[side].set_color('#231f20')
    for side in ['top', 'right']:
        ax.spines[side].set_linewidth(0.8)
        ax.spines[side].set_color('#444444')

    ax.set_title(titles[i], fontsize=15.5, color='#231f20', pad=12)
    ax.legend(handles, labels, loc='upper left', bbox_to_anchor=(leg_x[i], leg_y[i]),
              frameon=False, fontsize=14, handlelength=1.75, handletextpad=0.45,
              labelspacing=0.3, borderaxespad=0, borderpad=0, labelcolor='#231f20')

fig.savefig('out.png', dpi=100)
